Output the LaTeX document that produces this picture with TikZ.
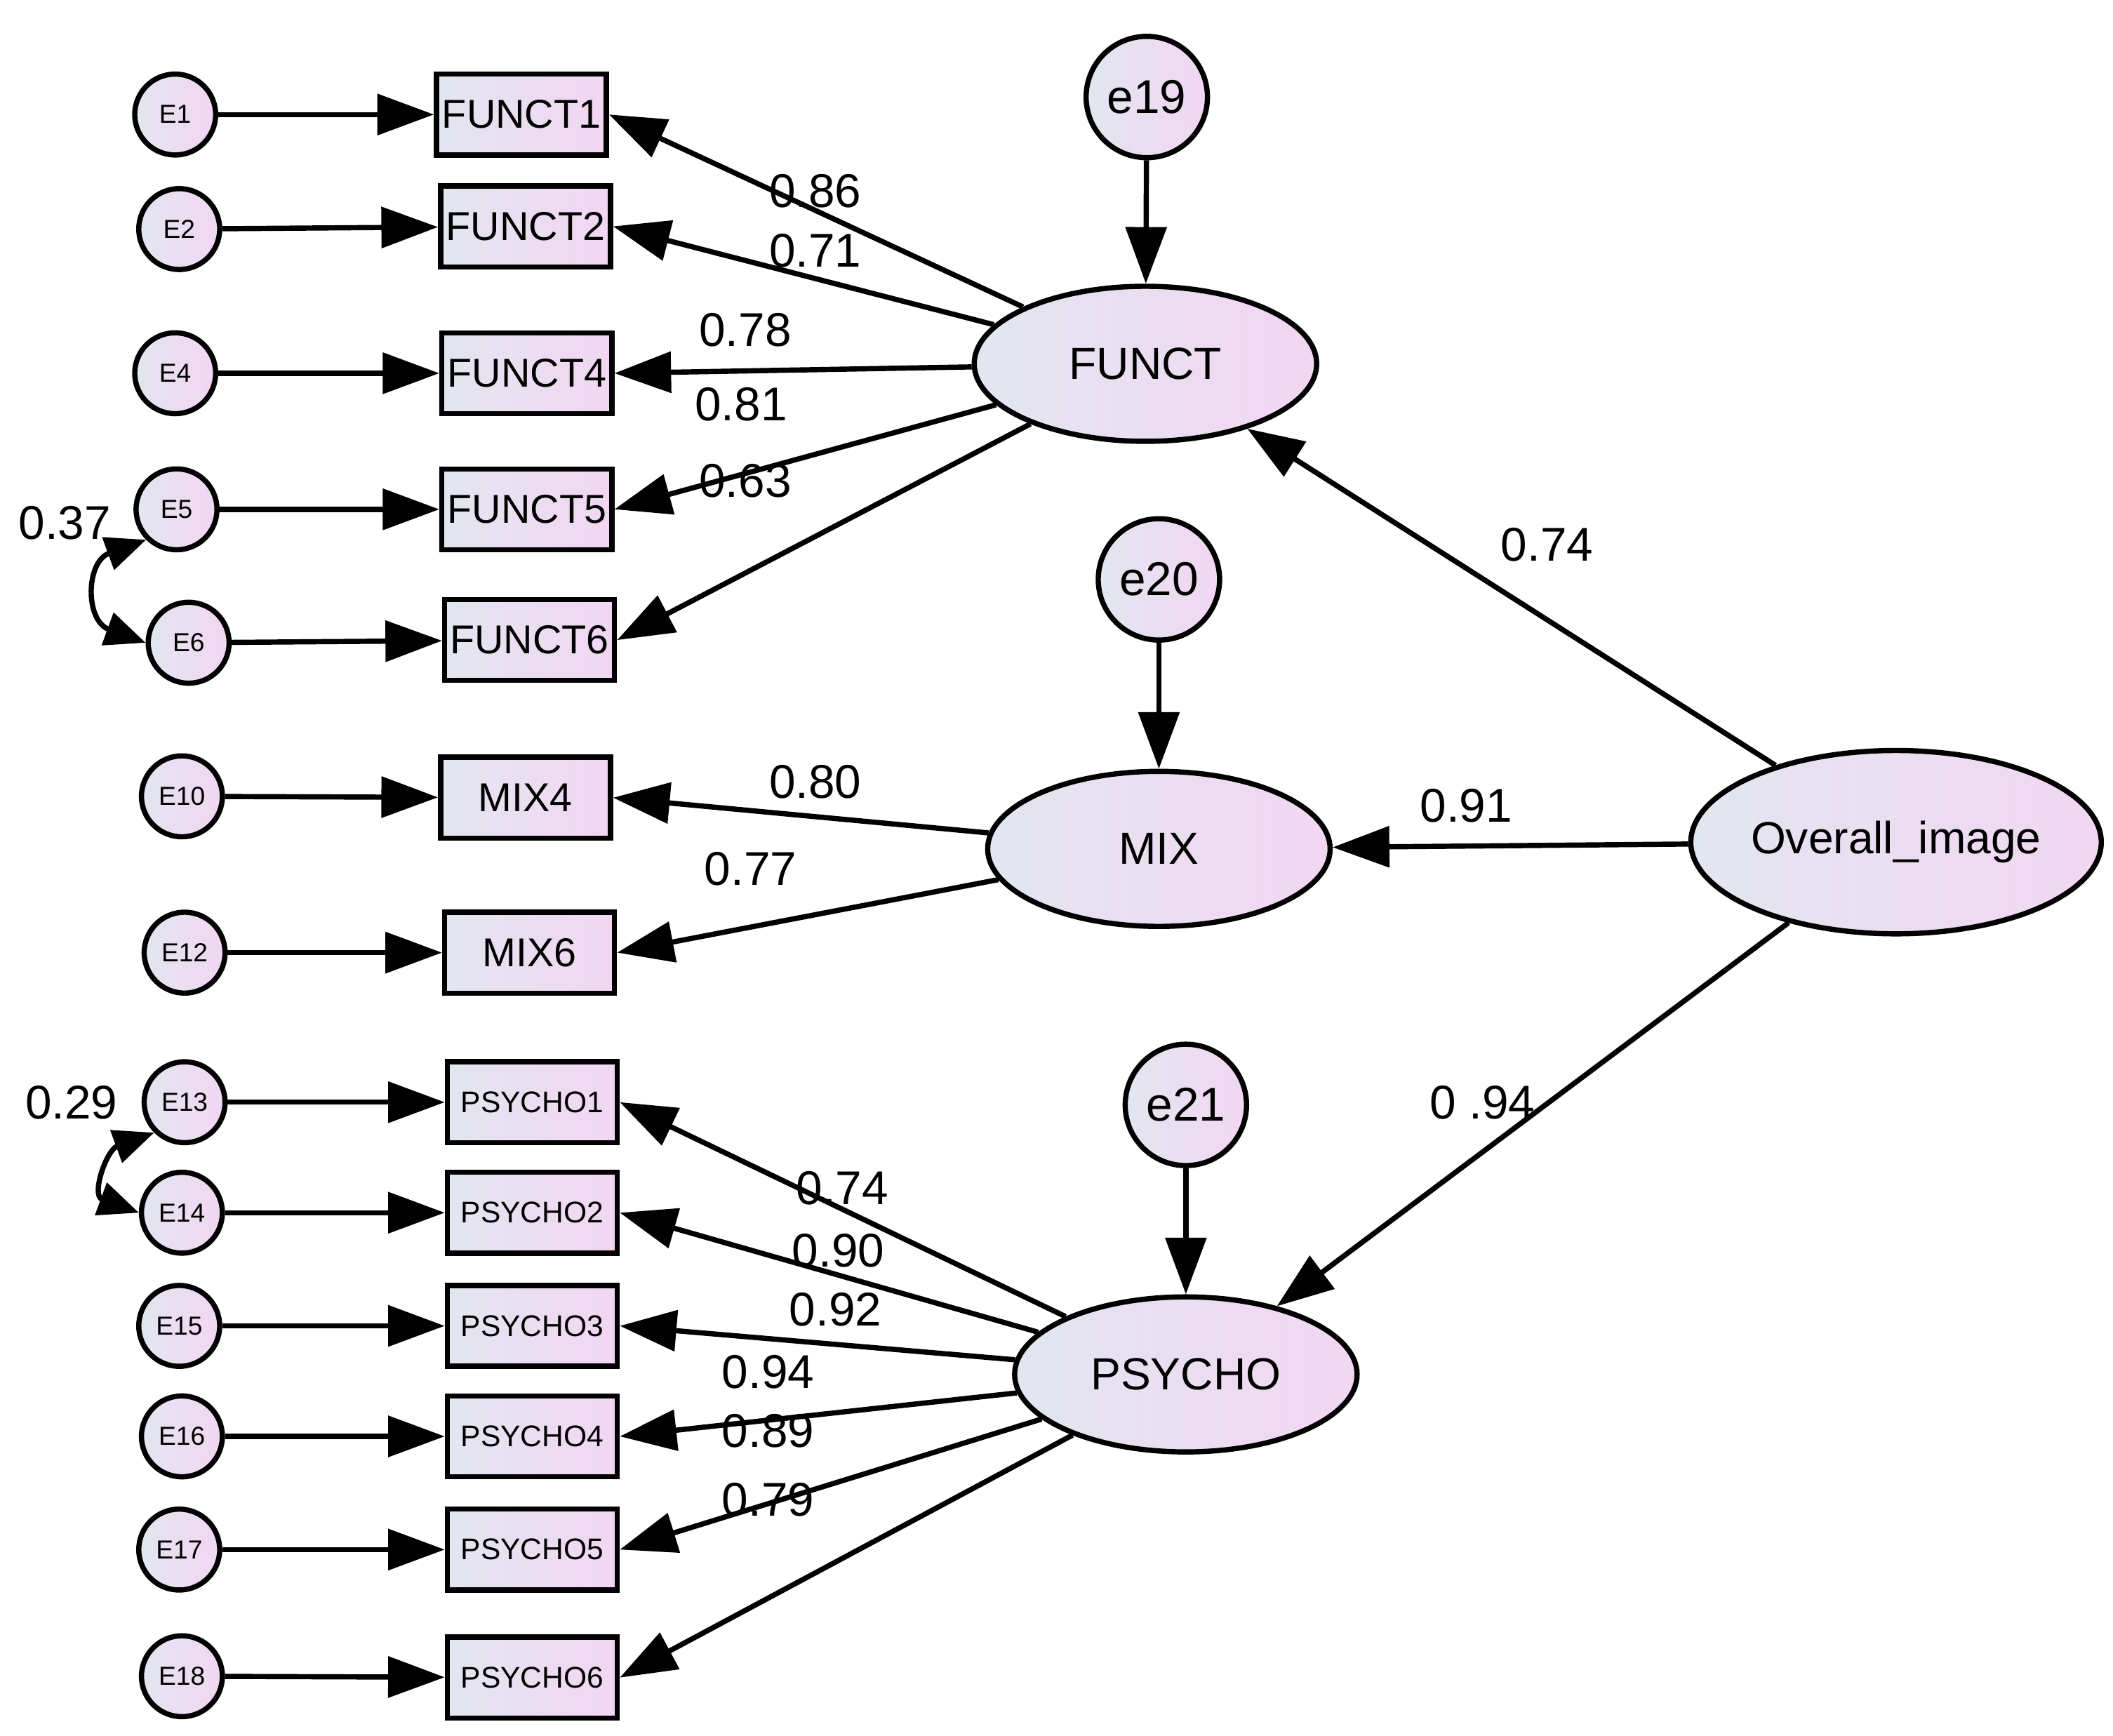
\documentclass[tikz,border=0pt]{standalone}
\usepackage{fontspec}
\setmainfont{Liberation Sans}
\usetikzlibrary{arrows.meta,shapes.geometric}
\definecolor{lc}{HTML}{E2E6F0}
\definecolor{rc}{HTML}{F3D6F2}
\begin{document}
\begin{tikzpicture}[x=0.01cm,y=-0.01cm,
  every node/.style={line width=1.1pt},
  err/.style={draw,circle,minimum size=0.6cm,inner sep=0pt,left color=lc,right color=rc,font=\fontsize{5.5}{6}\selectfont},
  res/.style={draw,circle,minimum size=0.9cm,inner sep=0pt,left color=lc,right color=rc,font=\fontsize{10}{12}\selectfont},
  obs/.style={draw,rectangle,minimum width=1.26cm,minimum height=0.6cm,inner sep=1pt,left color=lc,right color=rc,font=\fontsize{8.5}{10}\selectfont},
  obsp/.style={obs,font=\fontsize{6.3}{8}\selectfont},
  lat/.style={draw,ellipse,minimum width=2.54cm,minimum height=1.15cm,inner sep=0pt,left color=lc,right color=rc,font=\fontsize{9.5}{12}\selectfont},
  arr/.style={line width=1.1pt,-{Triangle[length=0.42cm,width=0.3cm]}},
  cov/.style={line width=1.1pt,{Triangle[length=0.3cm,width=0.25cm]}-{Triangle[length=0.3cm,width=0.25cm]}},
  lab/.style={font=\fontsize{10}{12}\selectfont}]
\useasboundingbox (0,0) rectangle (1568,1288);
\fill[white] (0,0) rectangle (1568,1288);
\node[err] (E1) at (130,85) {E1};  \node[obs] (F1) at (387,85) {FUNCT1};
\node[err] (E2) at (133,170) {E2}; \node[obs] (F2) at (390,168) {FUNCT2};
\node[err] (E4) at (130,277) {E4}; \node[obs] (F4) at (391,277) {FUNCT4};
\node[err] (E5) at (131,378) {E5}; \node[obs] (F5) at (391,378) {FUNCT5};
\node[err] (E6) at (140,477) {E6}; \node[obs] (F6) at (393,475) {FUNCT6};
\node[err] (E10) at (135,591) {E10}; \node[obs] (M4) at (390,592) {MIX4};
\node[err] (E12) at (137,707) {E12}; \node[obs] (M6) at (393,707) {MIX6};
\node[err] (E13) at (137,818) {E13}; \node[obsp] (P1) at (395,818) {PSYCHO1};
\node[err] (E14) at (135,900) {E14}; \node[obsp] (P2) at (395,900) {PSYCHO2};
\node[err] (E15) at (133,984) {E15}; \node[obsp] (P3) at (395,984) {PSYCHO3};
\node[err] (E16) at (135,1066) {E16}; \node[obsp] (P4) at (395,1066) {PSYCHO4};
\node[err] (E17) at (133,1150) {E17}; \node[obsp] (P5) at (395,1150) {PSYCHO5};
\node[err] (E18) at (135,1244) {E18}; \node[obsp] (P6) at (395,1245) {PSYCHO6};
\node[lat] (FUNCT) at (850,270) {FUNCT};
\node[res] (e19) at (851,72) {e19};
\node[lat] (MIX) at (860,630) {MIX};
\node[res] (e20) at (860,430) {e20};
\node[lat] (PSYCHO) at (880,1020) {PSYCHO};
\node[res] (e21) at (880,820) {e21};
\node[lat,minimum width=2.96cm,minimum height=1.36cm] (OI) at (1407,625) {Overall\_image};
\foreach \a/\b in {E1/F1,E2/F2,E4/F4,E5/F5,E6/F6,E10/M4,E12/M6,E13/P1,E14/P2,E15/P3,E16/P4,E17/P5,E18/P6}
  \draw[arr] (\a) -- (\b);
\draw[arr] (e19) -- (FUNCT);
\draw[arr] (e20) -- (MIX);
\draw[arr] (e21) -- (PSYCHO);
\foreach \b in {F1,F2,F4,F5,F6} \draw[arr] (FUNCT) -- (\b.east);
\foreach \b in {M4,M6} \draw[arr] (MIX) -- (\b.east);
\foreach \b in {P1,P2,P3,P4,P5,P6} \draw[arr] (PSYCHO) -- (\b.east);
\draw[arr] (OI) -- (FUNCT);
\draw[arr] (OI) -- (MIX);
\draw[arr] (OI) -- (PSYCHO);
\draw[cov] (E5.south west) to[out=200,in=160,looseness=1.6] (E6.west);
\draw[cov] (E13.south west) to[out=200,in=160,looseness=1.6] (E14.west);
\node[lab] (l1) at (605,142) {0.86};
\node[lab] (l2) at (605,186) {0.71};
\node[lab] (l3) at (553,245) {0.78};
\node[lab] (l4) at (550,300) {0.81};
\node[lab] (l5) at (553,357) {0.63};
\node[lab] (l6) at (1148,404) {0.74};
\node[lab] (l7) at (605,580) {0.80};
\node[lab] (l8) at (557,645) {0.77};
\node[lab] (l9) at (1088,598) {0.91};
\node[lab] (l10) at (1100,818) {0 .94};
\node[lab] (l11) at (625,882) {0.74};
\node[lab] (l12) at (622,928) {0.90};
\node[lab] (l13) at (620,972) {0.92};
\node[lab] (l14) at (570,1018) {0.94};
\node[lab] (l15) at (570,1062) {0.89};
\node[lab] (l16) at (570,1113) {0.79};
\node[lab] (l17) at (48,388) {0.37};
\node[lab] (l18) at (53,818) {0.29};
\end{tikzpicture}
\end{document}
